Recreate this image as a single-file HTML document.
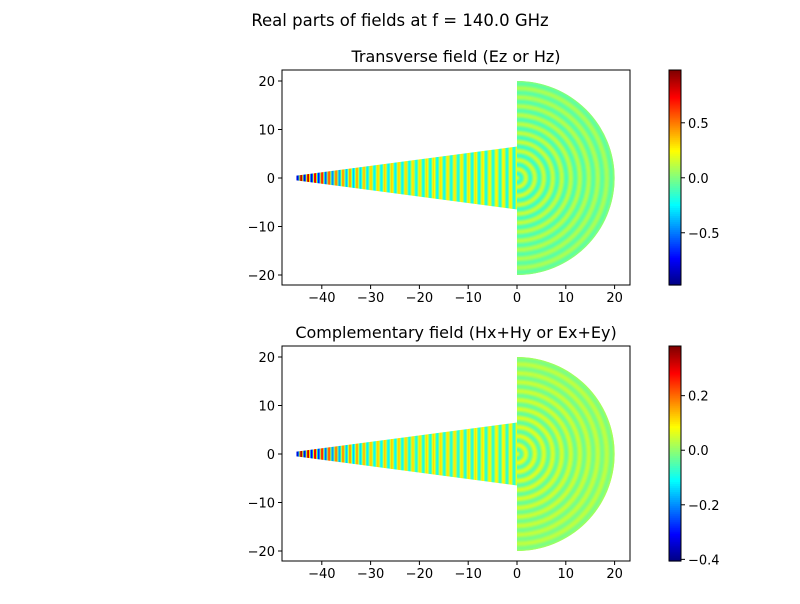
<!DOCTYPE html>
<html><head><meta charset="utf-8">
<style>
body{margin:0;background:#fff;width:800px;height:600px;overflow:hidden;font-family:"DejaVu Sans","Liberation Sans",sans-serif}
svg text{font-family:"DejaVu Sans","Liberation Sans",sans-serif}
</style></head>
<body>
<svg id="fig" width="800" height="600" xmlns="http://www.w3.org/2000/svg">
<text x="400" y="26" text-anchor="middle" font-size="16.5">Real parts of fields at f = 140.0 GHz</text>
</svg>
<script>
const xTicks=[-40,-30,-20,-10,0,10,20];
const yTicks=[-20,-10,0,10,20];
const titles=["Transverse field (Ez or Hz)","Complementary field (Hx+Hy or Ex+Ey)"];
const cbMin=[-0.975,-0.406];
const cbMax=[0.98,0.382];
const cbTicks=[[-0.5,0.0,0.5],[-0.4,-0.2,0.0,0.2]];
const cbLabels=[["−0.5","0.0","0.5"],["−0.4","−0.2","0.0","0.2"]];
// amplitude envelope along the horn (x positions, amplitude) per panel
const envX=[-45,-42,-38,-35,-30,-20,-10,0];
const envTop=[0.95,0.85,0.55,0.42,0.32,0.28,0.26,0.24];
const envBot=[0.38,0.33,0.22,0.17,0.13,0.11,0.1,0.09];
const hornBias=[0.04,0.01];
const semiR=[0,3,10,20];
const semiAmpTop=[0.16,0.15,0.11,0.07];
const semiAmpBot=[0.06,0.055,0.04,0.025];
const semiBase=[0.01,0.01];
const hornWave=1.43;
const semiWave=1.85;
const panelTop=[70,346];

const NS="http://www.w3.org/2000/svg";
const fig=document.getElementById('fig');
function mk(tag,attrs,parent){const e=document.createElementNS(NS,tag);for(const k in attrs)e.setAttribute(k,attrs[k]);(parent||fig).appendChild(e);return e;}
function jet(t){t=Math.max(0,Math.min(1,t));
 const r=Math.max(0,Math.min(1,1.5-Math.abs(4*t-3)));
 const g=Math.max(0,Math.min(1,1.5-Math.abs(4*t-2)));
 const b=Math.max(0,Math.min(1,1.5-Math.abs(4*t-1)));
 return `rgb(${Math.round(r*255)},${Math.round(g*255)},${Math.round(b*255)})`;}
function interp(xs,ys,x){if(x<=xs[0])return ys[0];for(let i=0;i<xs.length-1;i++){if(x<=xs[i+1]){const f=(x-xs[i])/(xs[i+1]-xs[i]);return ys[i]+f*(ys[i+1]-ys[i]);}}return ys[ys.length-1];}

for(let p=0;p<2;p++){
 const top=panelTop[p], L=282, R=630, B=top+215;
 const X=v=>517+v*4.88;
 const Y=v=>top+108-v*4.85;
 const cmin=cbMin[p],cmax=cbMax[p];
 const col=v=>jet((v-cmin)/(cmax-cmin));
 const g=mk('g',{},fig);
 
 
 const env=p?envBot:envTop;
 const step=0.2;
 for(let x=-45.2;x<0;x+=step){
  const hw=0.5+(x+45.2)/45.2*6.0;
  const v=hornBias[p]+interp(envX,env,x)*Math.cos(2*Math.PI*x/hornWave);
  const r=mk('rect',{x:X(x),y:Y(hw),width:step*4.88+0.4,height:hw*2*4.85,fill:col(v)},g);
  
  
 }
 const cid='clip'+p;
 const cp=mk('clipPath',{id:cid},g);
 mk('path',{d:`M${X(0)},${Y(20)} A${20*4.88},${20*4.85} 0 0 1 ${X(0)},${Y(-20)} Z`},cp);
 const sg=mk('g',{'clip-path':`url(#${cid})`},g);
 mk('rect',{x:X(0),y:Y(20),width:20*4.88+2,height:40*4.85,fill:col(semiBase[p])},sg);
 const sa=p?semiAmpBot:semiAmpTop;
 for(let r=0.2;r<=20.2;r+=0.2){
  const v=semiBase[p]+interp(semiR,sa,r)*Math.cos(2*Math.PI*r/semiWave);
  const c=mk('circle',{cx:X(0),cy:Y(0),r:r*4.86,fill:'none',stroke:col(v),'stroke-width':1.1},sg);
  
  
 }
 const fr=mk('rect',{x:L,y:top,width:R-L,height:215,fill:'none',stroke:'#000','stroke-width':1},g);
 
 
 const tt=mk('text',{x:(L+R)/2,y:top-8,'text-anchor':'middle','font-size':16},g);
 tt.textContent=titles[p];
 
 
 xTicks.forEach(v=>{
  mk('line',{x1:X(v),x2:X(v),y1:B,y2:B+4,stroke:'#000'},g);
  const t=mk('text',{x:X(v),y:B+17,'text-anchor':'middle','font-size':13},g);
  t.textContent=v<0?'−'+(-v):v;
  
  
 });
 yTicks.forEach(v=>{
  mk('line',{x1:L-4,x2:L,y1:Y(v),y2:Y(v),stroke:'#000'},g);
  const t=mk('text',{x:L-7,y:Y(v)+5,'text-anchor':'end','font-size':13},g);
  t.textContent=v<0?'−'+(-v):v;
  
  
 });
 const cb=mk('g',{},fig);
 
 
 const cx=669,cw=12,n=108;
 for(let i=0;i<n;i++){
  mk('rect',{x:cx,y:top+215-(i+1)*215/n,width:cw,height:215/n+0.6,fill:jet((i+0.5)/n)},cb);
 }
 mk('rect',{x:cx,y:top,width:cw,height:215,fill:'none',stroke:'#000','stroke-width':1},cb);
 const CY=v=>top+215-(v-cmin)/(cmax-cmin)*215;
 cbTicks[p].forEach((v,i)=>{
  mk('line',{x1:cx+cw,x2:cx+cw+4,y1:CY(v),y2:CY(v),stroke:'#000'},cb);
  const t=mk('text',{x:cx+cw+7,y:CY(v)+5,'font-size':13},cb);
  t.textContent=cbLabels[p][i];
  
  
 });
}
</script>
</body></html>
